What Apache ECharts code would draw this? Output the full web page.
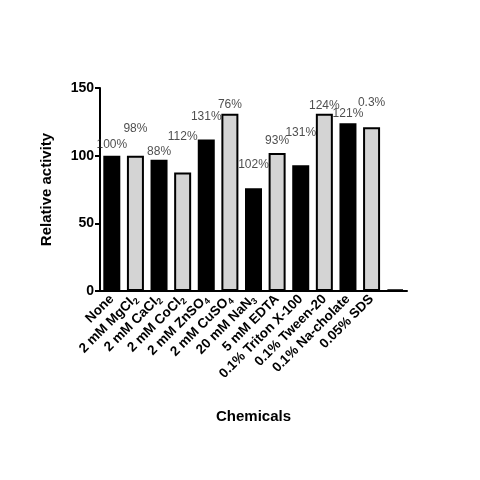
<!DOCTYPE html>
<html><head><meta charset="utf-8">
<script src="https://cdn.jsdelivr.net/npm/echarts@6/dist/echarts.min.js"></script>
<style>html,body{margin:0;background:#fff}#c{width:480px;height:480px}</style>
</head><body><div id="c"></div>
<script>
const categories = ['None','2 mM MgCl{s|2}','2 mM CaCl{s|2}','2 mM CoCl{s|2}','2 mM ZnSO{s|4}','2 mM CuSO{s|4}','20 mM NaN{s|3}','5 mM EDTA','0.1% Triton X-100','0.1% Tween-20','0.1% Na-cholate','0.05% SDS',''];
const values = [100,100,97,87.5,112,131,76,102,93,131,124,121,1];
const pctLabels = ['100%','98%','88%','112%','131%','76%','102%','93%','131%','124%','121%','0.3%'];
const pctLabelY = [108,120,103,114,129,138,93,111,117,137,131,139];
const yTicks = [0,50,100,150];
const barColors = ['#000000','#d4d4d4'];

const chart = echarts.init(document.getElementById('c'));
chart.setOption({
  animation:false,
  grid:{left:100,right:73,top:88,bottom:189},
  xAxis:{type:'category',data:categories.map((c,i)=>i),
    axisLine:{lineStyle:{color:'#000',width:2}},axisTick:{show:false},
    axisLabel:{interval:0,rotate:45,margin:6,color:'#000',fontWeight:'bold',fontSize:13.5,fontFamily:'Liberation Sans',
      formatter:(v)=>categories[v],
      rich:{s:{fontSize:9,fontWeight:'bold',verticalAlign:'bottom',padding:[8,0,0,0],fontFamily:'Liberation Sans'}}},
    name:'Chemicals',nameLocation:'middle',nameGap:118,
    nameTextStyle:{fontWeight:'bold',fontSize:15,color:'#000',fontFamily:'Liberation Sans'}},
  yAxis:{type:'value',min:0,max:150,interval:50,
    axisLine:{show:true,lineStyle:{color:'#000',width:2}},axisTick:{show:true,length:5,lineStyle:{width:2}},
    splitLine:{show:false},
    axisLabel:{color:'#000',fontWeight:'bold',fontSize:14,fontFamily:'Liberation Sans',margin:6},
    name:'Relative activity',nameLocation:'middle',nameGap:46,
    nameTextStyle:{fontWeight:'bold',fontSize:15,color:'#000',fontFamily:'Liberation Sans'}},
  series:[
    {type:'bar',barWidth:17,data:values.map((v,i)=>({value:v,itemStyle:{color:barColors[i%2]}})),
     itemStyle:{borderColor:'#000',borderWidth:2}},
    {type:'scatter',symbolSize:0,data:pctLabelY.map((y,i)=>[i,y]),
     label:{show:true,position:'inside',color:'#222',fontSize:12,fontFamily:'Liberation Sans',
       formatter:(p)=>pctLabels[p.dataIndex]}}
  ]
});
</script></body></html>
